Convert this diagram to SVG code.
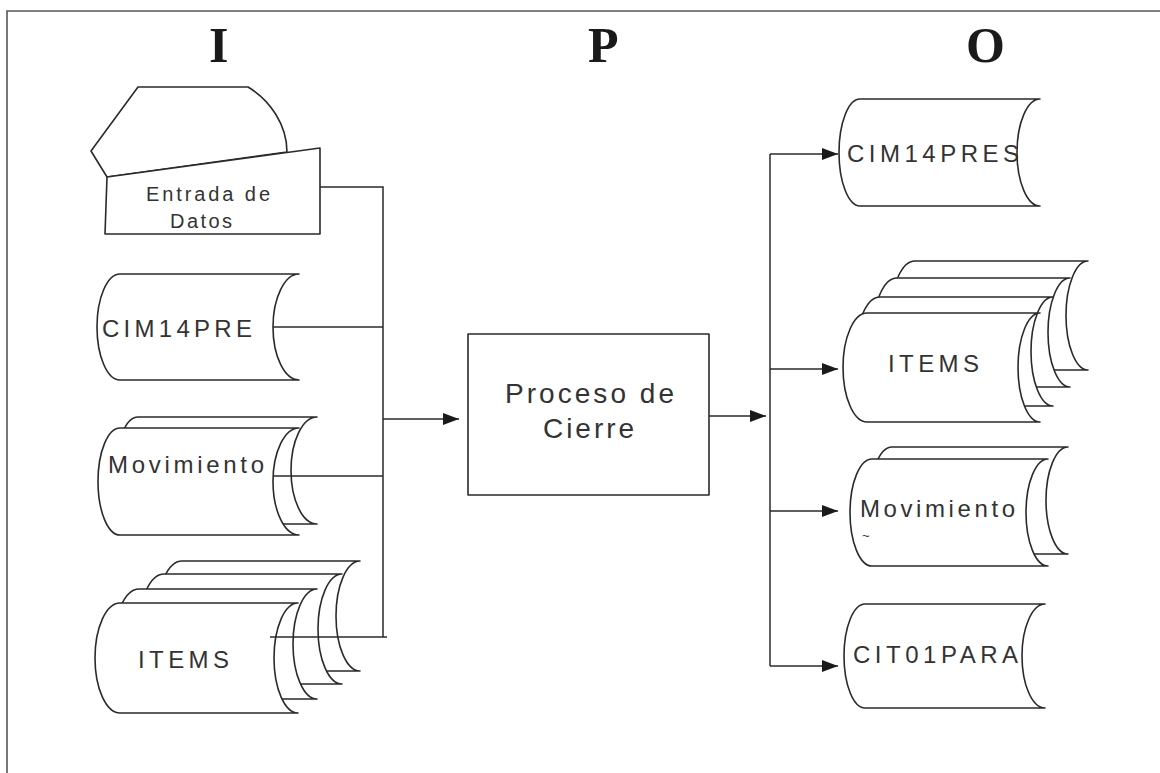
<svg xmlns="http://www.w3.org/2000/svg" width="1160" height="773" viewBox="0 0 1160 773">
<style>
.sh{fill:#fff;stroke:#2a2a2a;stroke-width:1.6;stroke-linejoin:round}
.ln{fill:none;stroke:#2a2a2a;stroke-width:1.5}
.lb{font-family:"Liberation Sans",Arial,sans-serif;font-size:24px;fill:#333}
.hd{font-family:"Liberation Serif","Times New Roman",serif;font-weight:bold;font-size:50px;fill:#1a1a1a}
</style>
<defs>
<marker id="ah" markerUnits="userSpaceOnUse" markerWidth="17" markerHeight="13" refX="16" refY="6" orient="auto">
<path d="M0,0 L16,6 L0,12 Z" fill="#1a1a1a"/>
</marker>
</defs>
<rect width="1160" height="773" fill="#fff"/>
<g id="frame">
<path d="M7,773 L7,11 L1160,11" fill="none" stroke="#555" stroke-width="1.6"/>
</g>
<g id="headers">
<text class="hd" x="209" y="62">I</text>
<text class="hd" x="588" y="62">P</text>
<text class="hd" x="966" y="62">O</text>
</g>

<g id="entrada">
<path class="sh" d="M107,177 L91,151 L138,87 L248,87 C270,100 287,125 287,152 L107,177 Z"/>
<path class="sh" d="M107,177 L320,148 L320,234 L105,234 Z"/>
<text class="lb" style="font-size:20px" x="146" y="201" textLength="124" lengthAdjust="spacing">Entrada de</text>
<text class="lb" style="font-size:20px" x="170" y="228" textLength="62" lengthAdjust="spacing">Datos</text>
</g>

<g id="cim14pre">
<path class="sh" d="M299,274 L120,274 A23,53 0 0 0 120,380 L299,380 A26,53 0 0 1 299,274 Z"/>
<text class="lb" x="102" y="337" textLength="150" lengthAdjust="spacing">CIM14PRE</text>
</g>

<g id="movimiento-in">
<path class="sh" d="M317,417 L138,417 A22,53.5 0 0 0 138,524 L317,524 A26,53.5 0 0 1 317,417 Z"/>
<path class="sh" d="M299,428 L120,428 A22,53.5 0 0 0 120,535 L299,535 A26,53.5 0 0 1 299,428 Z"/>
<text class="lb" x="108" y="473" textLength="156" lengthAdjust="spacing">Movimiento</text>
</g>

<g id="items-in">
<path class="sh" d="M360,561 L182,561 A25,55 0 0 0 182,671 L360,671 A24,55 0 0 1 360,561 Z"/>
<path class="sh" d="M342,574 L164,574 A25,55 0 0 0 164,684 L342,684 A24,55 0 0 1 342,574 Z"/>
<path class="sh" d="M317,589 L139,589 A25,55 0 0 0 139,699 L317,699 A24,55 0 0 1 317,589 Z"/>
<path class="sh" d="M298,603 L120,603 A25,55 0 0 0 120,713 L298,713 A24,55 0 0 1 298,603 Z"/>
<text class="lb" x="138" y="668" textLength="91" lengthAdjust="spacing">ITEMS</text>
</g>

<g id="proceso">
<rect class="sh" x="468" y="334" width="241" height="161"/>
<text class="lb" style="font-size:28px" x="505" y="403" textLength="169" lengthAdjust="spacing">Proceso de</text>
<text class="lb" style="font-size:28px" x="543" y="438" textLength="91" lengthAdjust="spacing">Cierre</text>
</g>

<g id="cim14pres">
<path class="sh" d="M1040,99 L860,99 A21,53.5 0 0 0 860,206 L1040,206 A23,53.5 0 0 1 1040,99 Z"/>
<text class="lb" x="847" y="162" textLength="172" lengthAdjust="spacing">CIM14PRES</text>
</g>

<g id="items-out">
<path class="sh" d="M1088,261 L915,261 A24,54.5 0 0 0 915,370 L1088,370 A22,54.5 0 0 1 1088,261 Z"/>
<path class="sh" d="M1070,278 L897,278 A24,54.5 0 0 0 897,387 L1070,387 A22,54.5 0 0 1 1070,278 Z"/>
<path class="sh" d="M1053,297 L880,297 A24,54.5 0 0 0 880,406 L1053,406 A22,54.5 0 0 1 1053,297 Z"/>
<path class="sh" d="M1040,313 L867,313 A24,54.5 0 0 0 867,422 L1040,422 A22,54.5 0 0 1 1040,313 Z"/>
<text class="lb" x="888" y="372" textLength="91" lengthAdjust="spacing">ITEMS</text>
</g>

<g id="movimiento-out">
<path class="sh" d="M1068,447 L892,447 A22,53.5 0 0 0 892,554 L1068,554 A22,53.5 0 0 1 1068,447 Z"/>
<path class="sh" d="M1048,459 L872,459 A22,53.5 0 0 0 872,566 L1048,566 A22,53.5 0 0 1 1048,459 Z"/>
<text class="lb" x="860" y="517" textLength="155" lengthAdjust="spacing">Movimiento</text>
<text class="lb" style="font-size:13px" x="862" y="540">~</text>
</g>

<g id="cit01para">
<path class="sh" d="M1045,604 L865,604 A21,52 0 0 0 865,708 L1045,708 A23,52 0 0 1 1045,604 Z"/>
<text class="lb" x="853" y="663" textLength="165" lengthAdjust="spacing">CIT01PARA</text>
</g>

<g id="connectors">
<path class="ln" d="M320,187 L383,187 L383,637"/>
<path class="ln" d="M273,327 L383,327"/>
<path class="ln" d="M273,476 L383,476"/>
<path class="ln" d="M270,637 L387,637"/>
<path class="ln" d="M383,419 L459,419" marker-end="url(#ah)"/>
<path class="ln" d="M709,416 L766,416" marker-end="url(#ah)"/>
<path class="ln" d="M770,154 L770,666"/>
<path class="ln" d="M770,154 L838,154" marker-end="url(#ah)"/>
<path class="ln" d="M770,369 L838,369" marker-end="url(#ah)"/>
<path class="ln" d="M770,511 L838,511" marker-end="url(#ah)"/>
<path class="ln" d="M770,666 L838,666" marker-end="url(#ah)"/>
</g>
</svg>
